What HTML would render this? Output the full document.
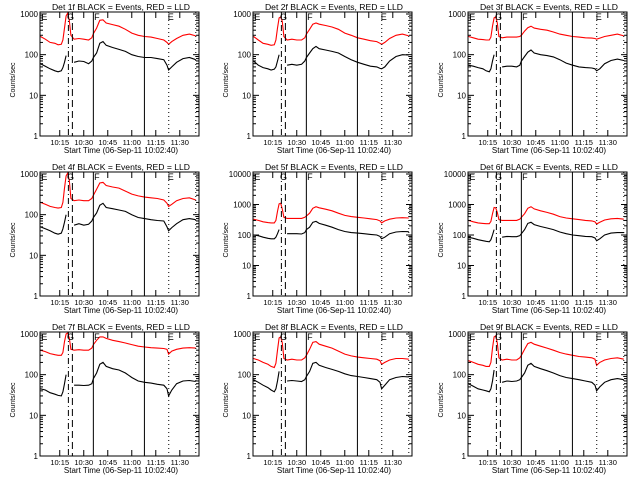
<!DOCTYPE html>
<html><head><meta charset="utf-8">
<style>
html,body{margin:0;padding:0;background:#fff;}
svg{display:block;}
text{font-family:"Liberation Sans",sans-serif;fill:#000;}
</style></head>
<body>
<svg id="chart" width="640" height="480" viewBox="0 0 640 480" xmlns="http://www.w3.org/2000/svg">
<rect width="640" height="480" fill="#fff"/>
</svg>
<script>
// Time samples: minutes after 10:00
const times = [3,6,9,12,14,16,17,18,19,20,21,22,24,27,30,33,35,36,38,40,42,44,48,52,56,60,64,68,72,76,80,82,83,85,88,92,96,100];
const detectorNames = ["1f","2f","3f","4f","5f","6f","7f","8f","9f"];
const axisMaxDecade = [3,3,3,3,4,4,3,3,3];
const xTickLabels = ["10:15","10:30","10:45","11:00","11:15","11:30"];
const xTickMinutes = [15,30,45,60,75,90];
const markerLabels = ["E","G","F","E"];
const markerMinutes = [3.5,19.5,36.5,82.5];
const lineMinutes = [20.4,22.9,36.0,67.9,83.1,100.0];
const lineStyles = ["dashdot","dash","solid","solid","dot","dot"];

const black1 = [60,52,45,40,38,40,48,65,95,null,null,null,65,70,68,60,70,85,110,190,210,170,150,135,120,100,90,85,85,80,75,55,42,50,65,80,85,75];
const red1   = [280,240,200,190,175,180,230,450,900,1050,700,300,240,250,240,230,260,330,450,700,720,600,550,500,420,340,300,280,270,250,230,200,180,210,250,300,320,290];
const black2 = [70,55,48,45,42,44,50,70,100,null,null,null,55,58,55,58,70,85,110,140,160,140,130,120,110,90,75,65,58,52,50,46,45,50,70,90,100,98];
const red2   = [280,230,190,180,170,175,230,450,800,850,650,280,230,240,230,230,260,320,420,560,600,560,520,480,420,340,300,260,240,220,210,190,180,200,250,300,320,290];
const black3 = [55,52,48,45,40,38,45,70,100,null,null,null,50,52,52,50,55,70,90,115,130,110,100,95,88,75,62,55,50,48,47,45,40,45,60,72,78,72];
const red3   = [280,260,240,235,230,230,270,500,800,850,600,280,260,270,270,270,280,300,380,460,500,450,420,400,360,320,300,280,270,260,255,250,240,255,280,300,320,290];
const black4 = [50,45,40,35,33,35,45,65,100,null,null,null,55,60,55,58,70,85,110,170,190,150,140,130,120,100,85,80,75,72,70,50,40,48,60,75,80,75];
const red4   = [200,180,160,150,145,150,200,450,900,1050,700,250,220,230,220,220,250,300,420,600,620,520,480,450,380,320,290,270,260,250,230,190,160,180,220,250,260,230];
const black5 = [100,95,85,78,75,75,85,110,150,null,null,null,110,110,110,108,120,150,180,260,280,240,210,180,150,130,120,115,110,105,100,90,75,85,110,125,130,128];
const red5   = [330,300,270,255,250,250,300,600,1050,1100,700,380,350,350,350,350,380,420,520,750,850,780,700,620,520,440,400,380,360,340,320,290,250,290,330,360,370,360];
const black6 = [85,78,70,65,62,60,70,100,150,null,null,null,85,90,88,88,95,110,150,240,260,220,190,170,150,125,110,100,95,90,88,80,65,75,100,115,120,120];
const red6   = [300,270,250,240,235,235,280,500,800,780,550,320,300,300,300,300,330,380,500,750,850,720,620,550,480,400,360,340,320,300,290,270,230,260,310,340,350,330];
const black7 = [45,42,36,33,31,30,38,60,100,null,null,null,55,55,54,55,60,80,110,180,200,160,140,130,110,85,70,65,62,58,55,45,30,42,60,70,72,68];
const red7   = [400,370,330,310,300,300,350,650,1000,1050,800,420,400,410,400,400,450,550,700,850,850,780,700,650,600,550,500,480,460,450,440,420,320,380,420,450,460,450];
const black8 = [75,65,55,48,42,38,45,70,120,null,null,null,70,72,70,68,75,90,120,190,200,170,150,135,120,105,95,90,85,80,75,65,45,55,75,85,90,88];
const red8   = [250,230,200,180,160,150,190,400,800,850,600,250,230,240,230,230,260,300,420,620,650,560,500,450,380,320,290,270,260,250,240,220,180,200,230,250,250,240];
const black9 = [60,52,45,42,40,38,45,70,130,null,null,null,65,70,68,70,75,85,110,170,190,160,140,125,110,95,85,80,75,70,65,55,40,50,65,75,80,75];
const red9   = [220,200,180,170,160,160,200,450,850,900,600,260,230,240,230,230,260,300,420,580,620,560,500,450,400,350,320,300,280,270,260,240,170,200,230,250,260,240];
const blackSeries = [black1,black2,black3,black4,black5,black6,black7,black8,black9];
const redSeries = [red1,red2,red3,red4,red5,red6,red7,red8,red9];

const NS = "http://www.w3.org/2000/svg";
const svg = document.getElementById("chart");
function mk(tag, attrs, parent){
  const e = document.createElementNS(NS, tag);
  for (const k in attrs) e.setAttribute(k, attrs[k]);
  parent.appendChild(e);
  return e;
}
const colX = [0,213,428];
const rowY = [0,160,320];
const T0 = 2 + 40/60, T1 = 102;

for (let p = 0; p < 9; p++) {
  const ox = colX[p%3], oy = rowY[Math.floor(p/3)];
  const L = ox+40, R = ox+199, Tp = oy+12, B = oy+136;
  const maxDec = axisMaxDecade[p];
  const logMax = maxDec*(124/122);
  const xs = m => L + (m - T0)/(T1 - T0)*(R - L);
  const ys = v => B - Math.log10(v)/logMax*(B - Tp);
  const g = mk("g", {}, svg);
  
  

  const title = mk("text", {x: ox+121, y: oy+10, "font-size": 8.6, "text-anchor": "middle"}, g);
  title.textContent = "Det " + detectorNames[p] + " BLACK = Events, RED = LLD";
  
  

  const drawSeries = (arr, color, name) => {
    let segs = [], cur = [];
    arr.forEach((v,i)=>{
      if (v === null) { if (cur.length) segs.push(cur); cur = []; }
      else cur.push(xs(times[i]).toFixed(1)+","+ys(v).toFixed(1));
    });
    if (cur.length) segs.push(cur);
    segs.forEach(s=>{
      const pl = mk("polyline", {points: s.join(" "), fill:"none", stroke: color, "stroke-width": 1.1}, g);
      
      
    });
  };
  drawSeries(redSeries[p], "#ff0000", "lld-series");
  drawSeries(blackSeries[p], "#000000", "events-series");

  lineMinutes.forEach((m,i)=>{
    const st = lineStyles[i];
    const da = st==="dashdot" ? "6,3,1,3" : st==="dash" ? "7,4" : st==="dot" ? "1,3" : "none";
    const ln = mk("line", {x1: xs(m), x2: xs(m), y1: Tp, y2: B, stroke:"#000", "stroke-width":1, "stroke-dasharray": da}, g);
    
    
  });
  markerLabels.forEach((s,i)=>{
    const t = mk("text", {x: xs(markerMinutes[i]), y: Tp+8, "font-size": 9}, g);
    t.textContent = s;
    
    
  });

  const fr = mk("rect", {x:L, y:Tp, width:R-L, height:B-Tp, fill:"none", stroke:"#000", "stroke-width":1}, g);
  
  

  for (let d = 0; d <= maxDec; d++) {
    for (let k = 1; k <= 9; k++) {
      const v = k*Math.pow(10,d);
      if (Math.log10(v) > logMax) break;
      const y = ys(v), len = k===1 ? 6 : 3;
      mk("line", {x1:L, x2:L+len, y1:y, y2:y, stroke:"#000"}, g);
      mk("line", {x1:R, x2:R-len, y1:y, y2:y, stroke:"#000"}, g);
    }
    const lab = mk("text", {x: L-2, y: ys(Math.pow(10,d))+3, "font-size": 8, "text-anchor":"end"}, g);
    lab.textContent = String(Math.pow(10,d));
    
    
  }
  xTickMinutes.forEach((m,i)=>{
    const x = xs(m);
    mk("line", {x1:x, x2:x, y1:B, y2:B-6, stroke:"#000"}, g);
    mk("line", {x1:x, x2:x, y1:Tp, y2:Tp+6, stroke:"#000"}, g);
    const lab = mk("text", {x:x, y:B+9, "font-size": 7.5, "text-anchor":"middle"}, g);
    lab.textContent = xTickLabels[i];
    
    
  });
  const xt = mk("text", {x: ox+121, y: oy+153, "font-size": 8, "text-anchor":"middle"}, g);
  xt.textContent = "Start Time (06-Sep-11 10:02:40)";
  
  
  const yt = mk("text", {x: 0, y: 0, "font-size": 7, "text-anchor":"middle", transform:`translate(${ox+15},${oy+80}) rotate(-90)`}, g);
  yt.textContent = "Counts/sec";
  
  
}
</script>
</body></html>
